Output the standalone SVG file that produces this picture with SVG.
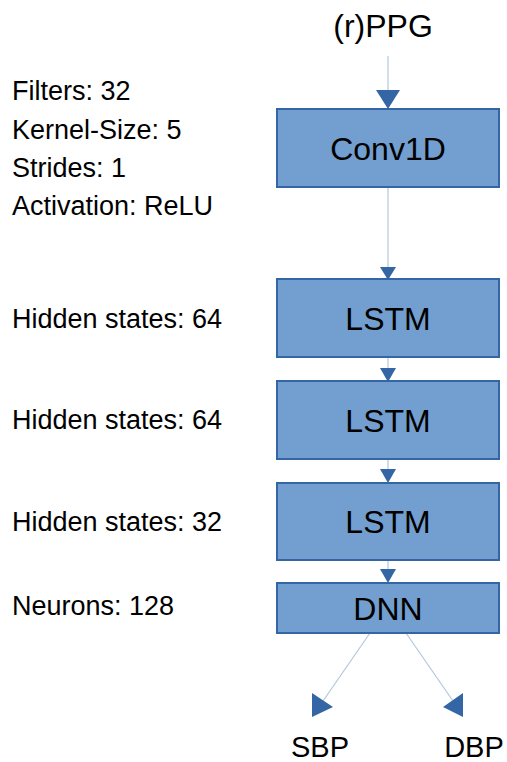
<svg xmlns="http://www.w3.org/2000/svg" width="507" height="762" viewBox="0 0 507 762">
<style>
.box{fill:#729fcf;stroke:#3465a4;stroke-width:2}
.bt{font-family:"Liberation Sans",Arial,sans-serif;font-size:32px;fill:#000;text-anchor:middle}
.lt{font-family:"Liberation Sans",Arial,sans-serif;font-size:27px;fill:#000}
.io{font-family:"Liberation Sans",Arial,sans-serif;font-size:29px;fill:#000;text-anchor:middle}
.ln{stroke:#b4c7dc;stroke-width:1.2;fill:none}
.ah{fill:#3465a4}
</style>
<rect width="507" height="762" fill="#fff"/>
<g id="connectors">
<line class="ln" x1="388" y1="56" x2="388" y2="92"/>
<polygon class="ah" points="376,90 400,90 388,109"/>
<line class="ln" x1="388" y1="187" x2="388" y2="268"/>
<polygon class="ah" points="380,267 396,267 388,280"/>
<line class="ln" x1="388" y1="357" x2="388" y2="369"/>
<polygon class="ah" points="380,368 396,368 388,382"/>
<line class="ln" x1="388" y1="459" x2="388" y2="470"/>
<polygon class="ah" points="380,469 396,469 388,483"/>
<line class="ln" x1="388" y1="560" x2="388" y2="570"/>
<polygon class="ah" points="380,569 396,569 388,583"/>
<line class="ln" x1="370" y1="633" x2="323" y2="701"/>
<polygon class="ah" points="312,693 333,707 312,717"/>
<line class="ln" x1="406" y1="633" x2="453" y2="701"/>
<polygon class="ah" points="463,693 443,707 463,717"/>
</g>
<g id="input"><text class="io" x="383" y="37" style="font-size:32px">(r)PPG</text></g>
<g id="conv1d"><rect class="box" x="277" y="109" width="222" height="78"/><text class="bt" x="388" y="160">Conv1D</text></g>
<g id="lstm1"><rect class="box" x="277" y="279" width="222" height="78"/><text class="bt" x="388" y="330">LSTM</text></g>
<g id="lstm2"><rect class="box" x="277" y="381" width="222" height="78"/><text class="bt" x="388" y="432">LSTM</text></g>
<g id="lstm3"><rect class="box" x="277" y="483" width="222" height="77"/><text class="bt" x="388" y="533">LSTM</text></g>
<g id="dnn"><rect class="box" x="277" y="583" width="222" height="50"/><text class="bt" x="388" y="620">DNN</text></g>
<g id="sbp"><text class="io" x="320" y="757">SBP</text></g>
<g id="dbp"><text class="io" x="474" y="757">DBP</text></g>
<g id="labels">
<text class="lt" x="12" y="100">Filters: 32</text>
<text class="lt" x="12" y="139">Kernel-Size: 5</text>
<text class="lt" x="12" y="177">Strides: 1</text>
<text class="lt" x="12" y="215">Activation: ReLU</text>
<text class="lt" x="12" y="328">Hidden states: 64</text>
<text class="lt" x="12" y="429">Hidden states: 64</text>
<text class="lt" x="12" y="531">Hidden states: 32</text>
<text class="lt" x="12" y="615">Neurons: 128</text>
</g>
</svg>
